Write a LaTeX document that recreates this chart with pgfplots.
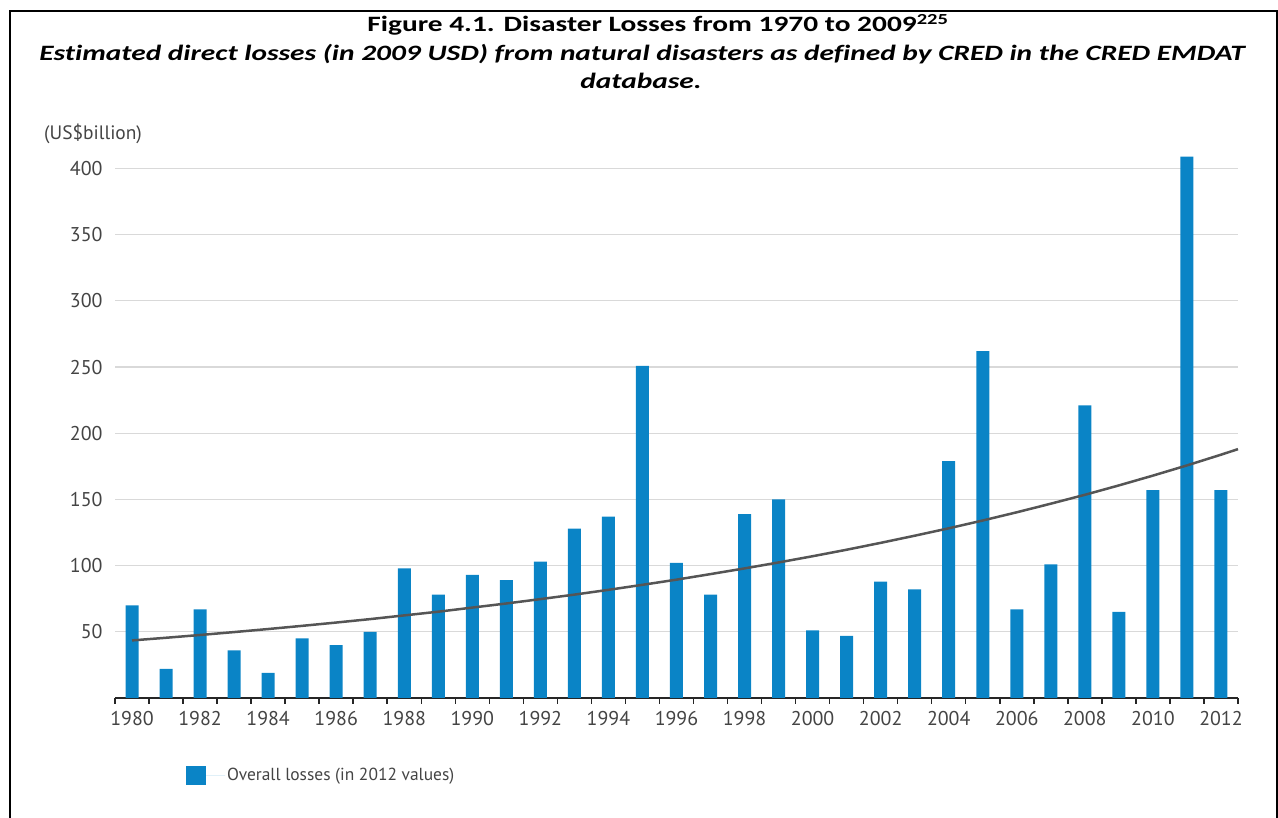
\documentclass[border=0pt]{standalone}
\usepackage{fontspec}
\setmainfont{Carlito}[Ligatures=NoCommon]
\newfontfamily\headfont{Carlito}[FakeStretch=1.34, Ligatures=NoCommon]
\newfontfamily\chartfont{PT Sans}
\usepackage{pgfplots}
\pgfplotsset{compat=1.18}
\usepackage{pgfplotstable}

\definecolor{barblue}{HTML}{0A84C6}
\definecolor{trendgrey}{HTML}{555555}
\definecolor{gridgrey}{HTML}{D9D9D9}
\definecolor{labelgrey}{HTML}{444444}

% Overall losses per year (US$ billion, 2012 values); idx 0 = 1980
\pgfplotstableread{
idx year loss
0  1980 70
1  1981 22
2  1982 67
3  1983 36
4  1984 19
5  1985 45
6  1986 40
7  1987 50
8  1988 98
9  1989 78
10 1990 93
11 1991 89
12 1992 103
13 1993 128
14 1994 137
15 1995 251
16 1996 102
17 1997 78
18 1998 139
19 1999 150
20 2000 51
21 2001 47
22 2002 88
23 2003 82
24 2004 179
25 2005 262
26 2006 67
27 2007 101
28 2008 221
29 2009 65
30 2010 157
31 2011 409
32 2012 157
}\losses

% Exponential trend line, one point per year
\pgfplotstableread{
idx trend
0    43.5
1    45.5
2    47.6
3    49.8
4    52.1
5    54.5
6    57.0
7    59.6
8    62.4
9    65.2
10   68.3
11   71.4
12   74.7
13   78.1
14   81.7
15   85.5
16   89.4
17   93.6
18   97.9
19  102.4
20  107.1
21  112.0
22  117.2
23  122.6
24  128.2
25  134.1
26  140.3
27  146.8
28  153.5
29  160.6
30  168.0
31  175.7
32  183.8
32.5 188.0
}\trend

\begin{document}
\begin{tikzpicture}[x=1bp,y=1bp]
\useasboundingbox (0,0) rectangle (1278,818);
% frame
\draw[line width=2bp] (10,-2) -- (10,807) -- (1277,807) -- (1277,-2);
% headings
\node[anchor=base, inner sep=0pt, font=\headfont\bfseries\fontsize{22}{28}\selectfont] at (658,786)
  {Figure 4.1. Disaster Losses from 1970 to 2009\textsuperscript{225}};
\node[anchor=base, inner sep=0pt, font=\headfont\bfseries\itshape\fontsize{22}{28}\selectfont] at (642,757)
  {Estimated direct losses (in 2009 USD) from natural disasters as defined by CRED in the CRED EMDAT};
\node[anchor=base, inner sep=0pt, font=\headfont\bfseries\itshape\fontsize{22}{28}\selectfont] at (641,729)
  {database.};
% unit label
\node[anchor=west, inner sep=0pt, text=labelgrey, font=\chartfont\fontsize{19.5}{22}\selectfont] at (44,684)
  {(US\$billion)};

\begin{axis}[
  at={(115bp,120bp)}, anchor=south west,
  scale only axis, width=1123bp, height=542.7bp,
  xmin=-0.5, xmax=32.5, ymin=0, ymax=410,
  axis x line*=bottom, axis y line*=left,
  x axis line style={-, line width=1.5bp, draw=black!85},
  y axis line style={draw=none},
  xtick={0,2,...,32},
  xticklabels={1980,1982,1984,1986,1988,1990,1992,1994,1996,1998,2000,2002,2004,2006,2008,2010,2012},
  minor xtick={-0.5,0.5,...,32.5},
  major tick length=0pt, minor tick length=6bp,
  tick align=outside,
  minor tick style={line width=1.5bp, draw=black!85},
  ytick={50,100,...,400},
  ymajorgrids, grid style={gridgrey, line width=1.2bp},
  /pgf/number format/assume math mode=true,
  ticklabel style={font=\chartfont\fontsize{20}{23}\selectfont, text=labelgrey},
  xticklabel style={yshift=-10bp},
  yticklabel style={xshift=-9bp},
  clip=false,
  legend style={at={(0.0632,-0.1428)}, anchor=west, draw=none, fill=none,
    inner sep=0pt, font=\chartfont\fontsize{17.5}{20}\selectfont, text=labelgrey},
  legend cell align=left,
]
\addplot[ybar, bar width=13bp, fill=barblue, draw=none,
  legend image code/.code={\fill[barblue] (0bp,-9.5bp) rectangle (20bp,9.5bp);
    \path (20bp,0bp) -- (39bp,0bp);}]
  table[x=idx, y=loss] {\losses};
\addlegendentry{Overall losses (in 2012 values)}
\addplot[trendgrey, line width=2.5bp, forget plot] table[x=idx, y=trend] {\trend};
\end{axis}
\end{tikzpicture}
\end{document}
